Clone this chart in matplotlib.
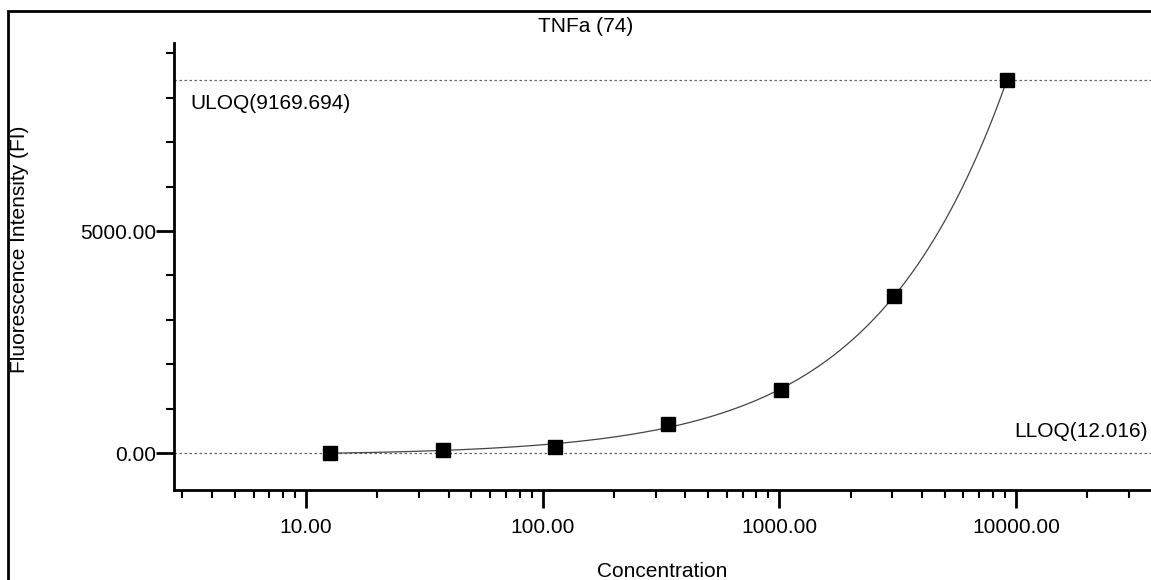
import numpy as np
import matplotlib
matplotlib.use("Agg")
import matplotlib.pyplot as plt
from matplotlib.patches import Rectangle
from matplotlib.ticker import FixedLocator, NullFormatter

plt.rcParams['font.family'] = ['Liberation Sans', 'DejaVu Sans']

# Standards (3-fold dilution series) and measured fluorescence
concentration = [12.58, 37.74, 113.2, 339.6, 1018.9, 3056.6, 9169.694]
fluorescence = [7, 60, 142, 660, 1419, 3536, 8400]

title = "TNFa (74)"
x_label = "Concentration"
y_label = "Fluorescence Intensity (FI)"
uloq_text = "ULOQ(9169.694)"
lloq_text = "LLOQ(12.016)"
uloq_fi = 8400
lloq_fi = 7

x_major = [10, 100, 1000, 10000]
x_major_labels = ["10.00", "100.00", "1000.00", "10000.00"]
y_major = [0, 5000]
y_major_labels = ["0.00", "5000.00"]
y_minor = [1000, 2000, 3000, 4000, 6000, 7000, 8000, 9000]

xc = np.array(concentration, dtype=float)
yc = np.array(fluorescence, dtype=float)

# 4-parameter logistic fit: y = a*g + d*(1-g), g = 1/(1+(x/c)^b)
best = None
for b in np.linspace(0.3, 3.0, 136):
    for logc in np.linspace(2.0, 6.0, 201):
        g = 1.0 / (1.0 + (xc / 10 ** logc) ** b)
        A = np.column_stack([g, 1 - g])
        coef, *_ = np.linalg.lstsq(A, yc, rcond=None)
        res = np.sum((A @ coef - yc) ** 2)
        if best is None or res < best[0]:
            best = (res, b, logc, coef)
_, b_fit, logc_fit, (a_fit, d_fit) = best

xs = np.logspace(np.log10(xc[0]), np.log10(xc[-1]), 500)
gs = 1.0 / (1.0 + (xs / 10 ** logc_fit) ** b_fit)
ys = a_fit * gs + d_fit * (1 - gs)

W, H = 1151, 580
FS = 15
fig = plt.figure(figsize=(W / 100, H / 100), dpi=100)
ax = fig.add_axes([174 / W, 1 - 490 / H, 1 - 174 / W, (490 - 43) / H])

ax.set_xscale("log")
ax.set_xlim(2.766, 37240)
ax.set_ylim(-833, 9234)

ax.axhline(uloq_fi, color="#666666", lw=0.9, ls=(0, (2, 2)), zorder=1)
ax.axhline(lloq_fi, color="#666666", lw=0.9, ls=(0, (2, 2)), zorder=1)

ax.plot(xs, ys, color="#444444", lw=0.9, zorder=2)
ax.plot(xc, yc, ls="none", marker="s", ms=9.6, color="black", zorder=3)

ax.text(0.0165, uloq_fi - 520, uloq_text, transform=ax.get_yaxis_transform(),
        fontsize=FS, va="center", ha="left")
ax.text(0.9965, lloq_fi + 470, lloq_text, transform=ax.get_yaxis_transform(),
        fontsize=FS, va="center", ha="right")

for side in ("top", "right"):
    ax.spines[side].set_visible(False)
for side in ("left", "bottom"):
    ax.spines[side].set_linewidth(2)

ax.xaxis.set_major_locator(FixedLocator(x_major))
ax.set_xticklabels(x_major_labels)
minor_x = [m * 10 ** k for k in range(0, 5) for m in range(2, 10)]
ax.xaxis.set_minor_locator(FixedLocator(minor_x))
ax.xaxis.set_minor_formatter(NullFormatter())

ax.yaxis.set_major_locator(FixedLocator(y_major))
ax.set_yticklabels(y_major_labels)
ax.yaxis.set_minor_locator(FixedLocator(y_minor))
ax.yaxis.set_minor_formatter(NullFormatter())

ax.tick_params(axis="x", which="major", direction="out", length=13, width=2,
               pad=7, labelsize=FS)
ax.tick_params(axis="x", which="minor", direction="out", length=6, width=1.5)
ax.tick_params(axis="y", which="major", direction="out", length=13, width=2,
               pad=0, labelsize=FS)
ax.tick_params(axis="y", which="minor", direction="out", length=6, width=1.5)

ax.set_xlabel(x_label, fontsize=FS)
ax.xaxis.set_label_coords(0.5, -0.16)
fig.text(20 / W, 1 - 249 / H, y_label, rotation=90, fontsize=FS,
         ha="center", va="center")
fig.text(586 / W, 1 - 26 / H, title, fontsize=FS, ha="center", va="center")

# outer frame
fig.patches.append(Rectangle((8 / W, -0.2), 1.5, 1.2 - 11 / H, transform=fig.transFigure,
                             fill=False, edgecolor="black", lw=2))

fig.savefig("out.png", dpi=100)
